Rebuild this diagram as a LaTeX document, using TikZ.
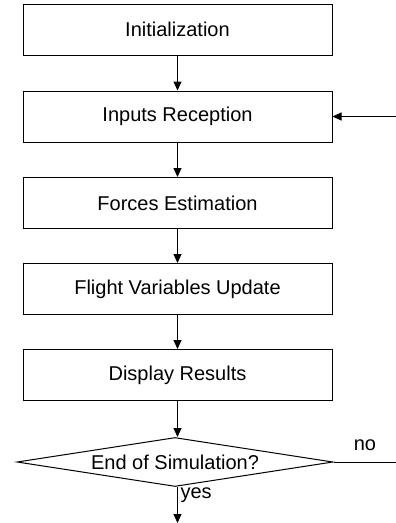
\documentclass[tikz,border=0pt]{standalone}
\usepackage{fontspec}
\setmainfont{Liberation Sans}
\usetikzlibrary{arrows.meta,shapes.geometric}

\begin{document}
\begin{tikzpicture}[
            x=1pt, y=-1pt,
            line width=1pt,
            >={Triangle[width=8pt,length=9pt]},
            every node/.style={font=\fontsize{20}{23}\selectfont},
            process/.style={rectangle, draw, minimum width=309pt, minimum height=51pt, inner sep=0pt},
            decision/.style={diamond, draw, minimum width=316pt, minimum height=49pt, inner sep=0pt, aspect=6.4}
        ]
            \useasboundingbox (0,0) rectangle (396,523);

            % main loop
            \node[process] (init) at (177.5,29.5) {Initialization};
            \node[process] (inputs) at (177.5,116.5) {Inputs Reception};
            \node[process] (forces) at (177.5,203) {Forces Estimation};
            \node[process] (update) at (177.5,289) {Flight Variables Update};
            \node[process] (results) at (177.5,375) {Display Results};
            \node[decision] (endsim) at (175,462) {End of Simulation?};

            \draw[->] (init) -- (inputs);
            \draw[->] (inputs) -- (forces);
            \draw[->] (forces) -- (update);
            \draw[->] (update) -- (results);
            \draw[->] (results) -- (results |- endsim.north);

            % loop back and exit
            \coordinate (loopin) at (396,116.5);
            \coordinate (loopout) at (396,462);
            \coordinate (exit) at (177.5,523);

            \draw[->] (loopin) -- (inputs);
            \draw (endsim.east) -- (loopout);
            \draw[->] (exit |- endsim.south) -- (exit);

            \node (no) at (365,445) {no};
            \node[anchor=north west, inner sep=1pt] (yes) at (179,486) {yes};
        \end{tikzpicture}
\end{document}
